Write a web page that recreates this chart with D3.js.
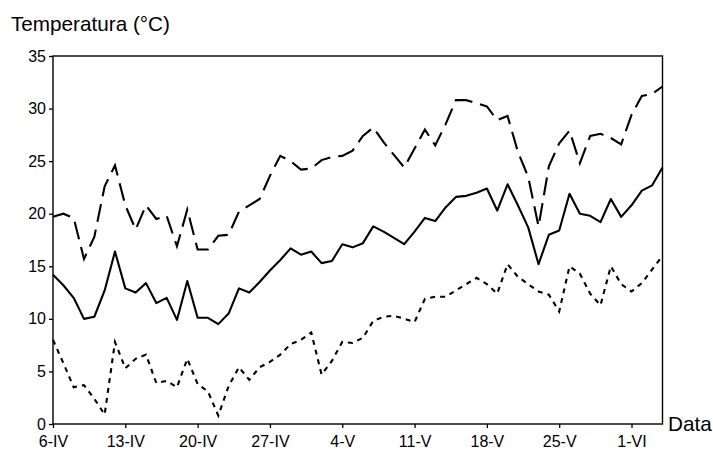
<!DOCTYPE html>
<html>
<head>
<meta charset="utf-8">
<script src="https://cdn.jsdelivr.net/npm/d3@7"></script>
<style>
  html, body { margin: 0; padding: 0; background: #fff; }
  svg { display: block; font-family: "Liberation Sans", Arial, Helvetica, sans-serif; }
</style>
</head>
<body>
<svg id="chart" width="713" height="451"></svg>
<script>
// ---- data (daily, starting 6-IV) ----
const dayIndex = d3.range(60); // day 0 = 6-IV ... day 59 = 4-VI
const tickDays = [0, 7, 14, 21, 28, 35, 42, 49, 56];
const tickLabels = ["6-IV", "13-IV", "20-IV", "27-IV", "4-V", "11-V", "18-V", "25-V", "1-VI"];
const yTicks = [0, 5, 10, 15, 20, 25, 30, 35];

const maxT = [19.7,20.0,19.6,15.7,17.8,22.6,24.6,20.8,18.5,20.8,
              19.5,19.8,16.9,20.4,16.6,16.6,17.9,18.0,20.2,20.8,
              21.4,23.6,25.5,25.0,24.2,24.3,25.1,25.4,25.5,26.0,
              27.4,28.2,26.8,25.6,24.4,26.2,28.0,26.5,28.5,30.8,
              30.8,30.5,30.2,28.9,29.3,25.9,23.5,18.8,24.5,26.7,
              27.9,24.8,27.4,27.6,27.2,26.6,29.4,31.2,31.4,32.1];

const meanT = [14.2,13.2,12.0,10.0,10.2,12.7,16.4,12.9,12.5,13.4,
               11.5,12.0,9.9,13.6,10.1,10.1,9.5,10.5,12.9,12.5,
               13.5,14.6,15.6,16.7,16.1,16.4,15.3,15.5,17.1,16.8,
               17.2,18.8,18.3,17.7,17.1,18.3,19.6,19.3,20.6,21.6,
               21.7,22.0,22.4,20.3,22.8,20.8,18.7,15.2,18.0,18.4,
               21.9,20.0,19.8,19.2,21.4,19.7,20.8,22.2,22.7,24.4];

const minT = [8.0,5.8,3.5,3.7,2.4,0.9,7.8,5.3,6.2,6.6,
              3.9,4.1,3.5,6.2,3.8,3.1,0.8,3.6,5.4,4.2,
              5.4,5.9,6.6,7.6,8.0,8.7,4.7,6.0,7.8,7.7,
              8.2,9.8,10.2,10.3,10.0,9.7,11.9,12.1,12.1,12.7,
              13.3,13.9,13.3,12.4,15.2,14.0,13.3,12.6,12.3,10.7,
              15.0,14.3,12.4,11.3,15.0,13.3,12.6,13.4,14.7,16.0];

const yTitle = "Temperatura (°C)";
const xTitle = "Data";

// ---- layout ----
const svg = d3.select("#chart");
const plotLeft = 53, plotRight = 662.5, plotTop = 56, plotBottom = 424;

const x = d3.scaleLinear().domain([0, 59]).range([plotLeft, plotRight]);
const y = d3.scaleLinear().domain([0, 35]).range([plotBottom, plotTop]);

// frame
svg.append("rect")
  .attr("x", plotLeft).attr("y", plotTop)
  .attr("width", plotRight - plotLeft).attr("height", plotBottom - plotTop)
  .attr("fill", "none").attr("stroke", "#000").attr("stroke-width", 1.4);

// axes
const yAxis = d3.axisLeft(y).tickValues(yTicks).tickSize(4).tickPadding(3).tickFormat(d3.format("d"));
const gy = svg.append("g").attr("transform", `translate(${plotLeft},0)`).call(yAxis);
gy.select(".domain").remove();
gy.selectAll("line").attr("stroke", "#000").attr("stroke-width", 1.3);
gy.selectAll("text").attr("font-size", 16).attr("fill", "#000")
  .attr("font-family", "'Liberation Sans', Arial, sans-serif");

const xAxis = d3.axisBottom(x).tickValues(tickDays).tickSize(4).tickPadding(8)
  .tickFormat((d, i) => tickLabels[i]);
const gx = svg.append("g").attr("transform", `translate(0,${plotBottom})`).call(xAxis);
gx.select(".domain").remove();
gx.selectAll("line").attr("stroke", "#000").attr("stroke-width", 1.3);
gx.selectAll("text").attr("font-size", 16).attr("fill", "#000")
  .attr("font-family", "'Liberation Sans', Arial, sans-serif");

// lines
const line = d3.line().x((d, i) => x(dayIndex[i])).y(d => y(d));

svg.append("path").datum(maxT)
  .attr("d", line).attr("fill", "none").attr("stroke", "#000")
  .attr("stroke-width", 2.1).attr("stroke-dasharray", "18,8");

svg.append("path").datum(meanT)
  .attr("d", line).attr("fill", "none").attr("stroke", "#000")
  .attr("stroke-width", 2.1).attr("stroke-linejoin", "round");

svg.append("path").datum(minT)
  .attr("d", line).attr("fill", "none").attr("stroke", "#000")
  .attr("stroke-width", 2.1).attr("stroke-dasharray", "5,5");

// titles
svg.append("text").attr("x", 11).attr("y", 31)
  .attr("font-size", 20.7).attr("fill", "#000").text(yTitle);
svg.append("text").attr("x", 668).attr("y", 431)
  .attr("font-size", 20.7).attr("fill", "#000").text(xTitle);
</script>
</body>
</html>
